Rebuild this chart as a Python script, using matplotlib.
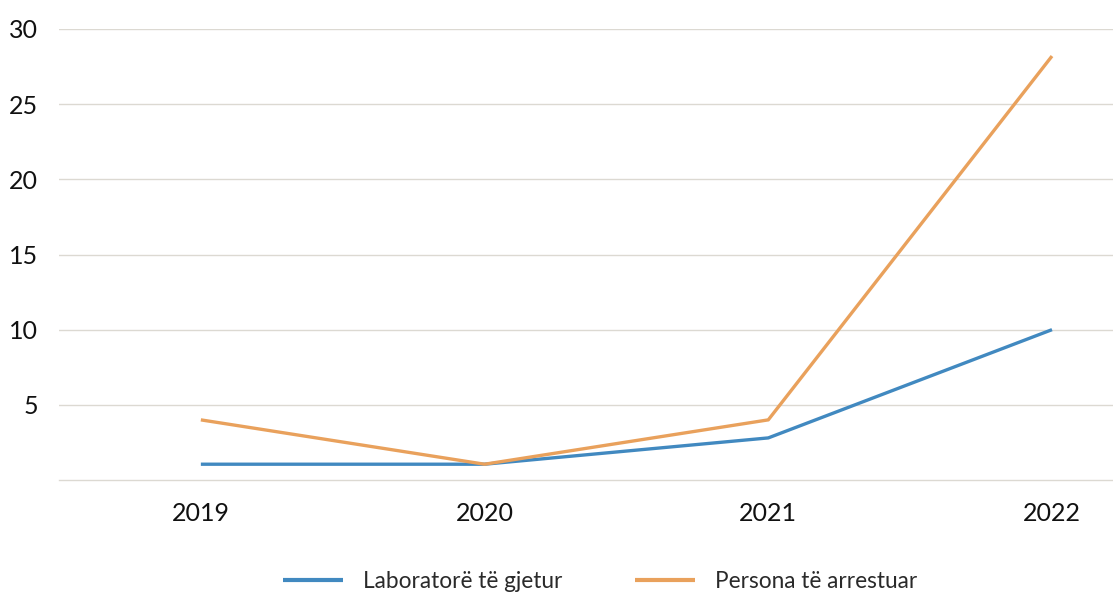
import matplotlib.pyplot as plt

years = ["2019", "2020", "2021", "2022"]
labs_found = [1.05, 1.05, 2.8, 10]
persons_arrested = [4, 1.05, 4, 28.2]
series_names = ["Laboratorë të gjetur", "Persona të arrestuar"]
yticks = [5, 10, 15, 20, 25, 30]

plt.rcParams['font.family'] = ['Lato', 'DejaVu Sans']

W, H = 1113, 592
fig = plt.figure(figsize=(W / 100, H / 100), dpi=100)
ax = fig.add_axes([59 / W, 1 - 480 / H, (W - 59) / W, (480 - 29) / H])

x = list(range(len(years)))
ax.plot(x, labs_found, color='#4189c0', lw=2.4, label=series_names[0], solid_capstyle='butt')
ax.plot(x, persons_arrested, color='#e9a15c', lw=2.4, label=series_names[1], solid_capstyle='butt')

ax.set_xlim(-0.5, 3.215)
ax.set_ylim(0, 30)
ax.set_xticks(x)
ax.set_xticklabels(years)
ax.set_yticks(yticks)
ax.tick_params(axis='both', length=0, labelsize=18, colors='#111111')
ax.tick_params(axis='y', pad=15)
ax.tick_params(axis='x', pad=16)
ax.grid(axis='y', color='#dcd9d2', lw=1)
ax.set_axisbelow(True)
for s in ['top', 'right', 'left']:
    ax.spines[s].set_visible(False)
ax.spines['bottom'].set_color('#dcd9d2')
ax.spines['bottom'].set_linewidth(1)

leg = fig.legend(loc='center', bbox_to_anchor=(600 / W, 1 - 581 / H), ncol=2,
                 frameon=False, handlelength=2.65, handletextpad=0.9,
                 columnspacing=3.2, prop={'weight': 'normal', 'size': 16.3})
for line in leg.get_lines():
    line.set_linewidth(3)
for t in leg.get_texts():
    t.set_color('#2a2a2a')

fig.savefig('out.png', dpi=100)
